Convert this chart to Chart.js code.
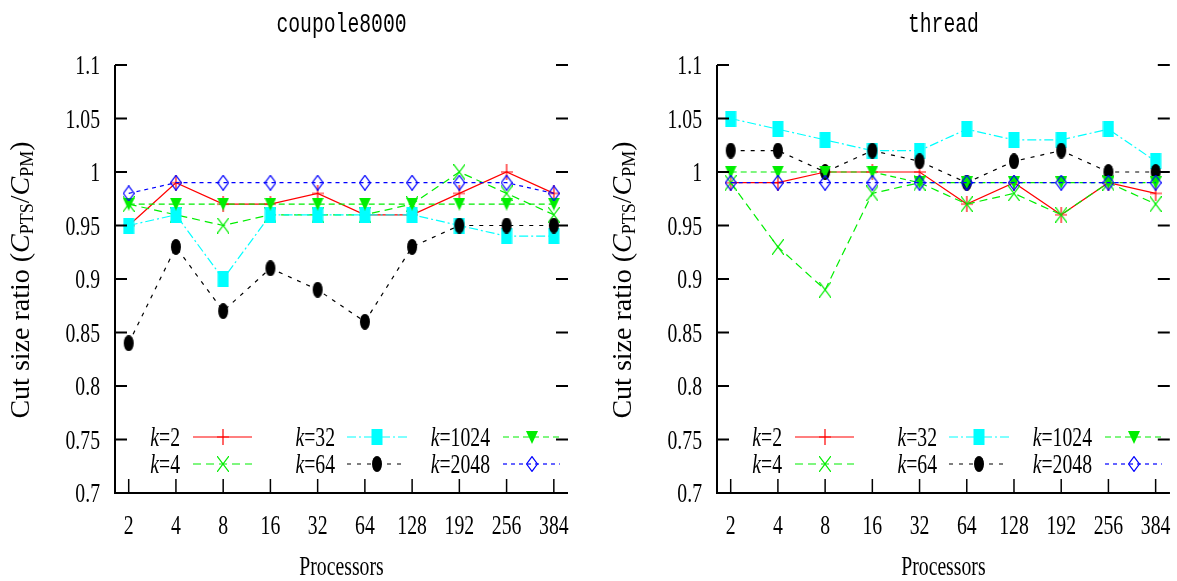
<!DOCTYPE html>
<html>
<head>
<meta charset="utf-8">
<script src="https://cdn.jsdelivr.net/npm/chart.js@4.4.0/dist/chart.umd.min.js"></script>
<style>
html, body { margin: 0; padding: 0; background: #fff; }
#wrap { position: relative; width: 1177px; height: 581px; overflow: hidden; }
canvas { position: absolute; top: 0; }
</style>
</head>
<body>
<div id="wrap">
  <canvas id="leftChart" width="588" height="581" style="left:0"></canvas>
  <canvas id="rightChart" width="589" height="581" style="left:588px"></canvas>
</div>
<script>
// categories and tick labels
const processors = ['2', '4', '8', '16', '32', '64', '128', '192', '256', '384'];
const yTickValues = [0.7, 0.75, 0.8, 0.85, 0.9, 0.95, 1, 1.05, 1.1];
const yTickLabels = ['0.7', '0.75', '0.8', '0.85', '0.9', '0.95', '1', '1.05', '1.1'];
const kValues = ['2', '4', '32', '64', '1024', '2048'];

// coupole8000
const coupoleK2    = [0.95, 0.99, 0.97, 0.97, 0.98, 0.96, 0.96, 0.98, 1.00, 0.98];
const coupoleK4    = [0.97, 0.96, 0.95, 0.96, 0.96, 0.96, 0.97, 1.00, 0.98, 0.96];
const coupoleK32   = [0.95, 0.96, 0.90, 0.96, 0.96, 0.96, 0.96, 0.95, 0.94, 0.94];
const coupoleK64   = [0.84, 0.93, 0.87, 0.91, 0.89, 0.86, 0.93, 0.95, 0.95, 0.95];
const coupoleK1024 = [0.97, 0.97, 0.97, 0.97, 0.97, 0.97, 0.97, 0.97, 0.97, 0.97];
const coupoleK2048 = [0.98, 0.99, 0.99, 0.99, 0.99, 0.99, 0.99, 0.99, 0.99, 0.98];

// thread
const threadK2    = [0.99, 0.99, 1.00, 1.00, 1.00, 0.97, 0.99, 0.96, 0.99, 0.98];
const threadK4    = [0.99, 0.93, 0.89, 0.98, 0.99, 0.97, 0.98, 0.96, 0.99, 0.97];
const threadK32   = [1.05, 1.04, 1.03, 1.02, 1.02, 1.04, 1.03, 1.03, 1.04, 1.01];
const threadK64   = [1.02, 1.02, 1.00, 1.02, 1.01, 0.99, 1.01, 1.02, 1.00, 1.00];
const threadK1024 = [1.00, 1.00, 1.00, 1.00, 0.99, 0.99, 0.99, 0.99, 0.99, 0.99];
const threadK2048 = [0.99, 0.99, 0.99, 0.99, 0.99, 0.99, 0.99, 0.99, 0.99, 0.99];

// line styles, one per k
const lineColors = ['#ff0000', '#00ee00', '#00ffff', '#000000', '#00ee00', '#0000ff'];
const lineDashes = [[], [8, 5], [9, 3, 2, 3], [4, 6], [6, 4], [4, 4]];
const markerShapes = ['plus', 'cross', 'square', 'circle', 'triangleDown', 'diamond'];

// the original text is horizontally condensed
const SX = 0.73;
const SERIF = '"Liberation Serif", "Times New Roman", serif';

function makeMarker(shape, color) {
    const c = document.createElement('canvas');
    const w = 12, h = shape === 'triangleDown' ? 13 : 16;
    c.width = w;
    c.height = h;
    const g = c.getContext('2d');
    g.strokeStyle = color;
    g.fillStyle = color;
    g.lineWidth = 1.2;
    g.beginPath();
    if (shape === 'plus') {
        g.moveTo(0, h / 2); g.lineTo(w, h / 2);
        g.moveTo(w / 2, 0); g.lineTo(w / 2, h);
        g.stroke();
    } else if (shape === 'cross') {
        g.moveTo(0, 0); g.lineTo(w, h);
        g.moveTo(w, 0); g.lineTo(0, h);
        g.stroke();
    } else if (shape === 'square') {
        g.fillRect(0.5, 0, 11, 16);
    } else if (shape === 'circle') {
        g.ellipse(w / 2, h / 2, 5, 8, 0, 0, Math.PI * 2);
        g.fill();
    } else if (shape === 'triangleDown') {
        g.moveTo(0, 0); g.lineTo(w, 0); g.lineTo(w / 2, h);
        g.closePath();
        g.fill();
    } else if (shape === 'diamond') {
        g.moveTo(w / 2, 0.6); g.lineTo(w - 0.6, h / 2);
        g.lineTo(w / 2, h - 0.6); g.lineTo(0.6, h / 2);
        g.closePath();
        g.stroke();
    }
    return c;
}

const markers = markerShapes.map((s, i) => makeMarker(s, lineColors[i]));

function textW(ctx, str, font, sx) {
    ctx.font = font;
    return ctx.measureText(str).width * sx;
}

// draws a run of text pieces, each piece can have its own font and offset
function drawParts(ctx, parts, x, y, align, sx) {
    const total = parts.reduce((s, p) => s + textW(ctx, p.t, p.font, sx), 0);
    let pos = align === 'right' ? x - total : align === 'center' ? x - total / 2 : x;
    parts.forEach(p => {
        ctx.save();
        ctx.font = p.font;
        ctx.fillStyle = '#000';
        ctx.textAlign = 'left';
        ctx.textBaseline = 'alphabetic';
        ctx.translate(pos, y + (p.dy || 0));
        ctx.scale(sx, 1);
        ctx.fillText(p.t, 0, 0);
        ctx.restore();
        pos += textW(ctx, p.t, p.font, sx);
    });
}

// axes, ticks, labels and legend in the gnuplot style
const framePlugin = {
    id: 'frame',
    afterDraw(chart, args, opts) {
        const ctx = chart.ctx;
        const xs = chart.scales.x, ys = chart.scales.y;
        const L = chart.chartArea.left, R = chart.chartArea.right;
        const T = chart.chartArea.top, B = chart.chartArea.bottom;
        ctx.save();
        ctx.strokeStyle = '#000';
        ctx.lineWidth = 2;
        ctx.setLineDash([]);
        ctx.beginPath();
        ctx.moveTo(L, T);
        ctx.lineTo(L, B);
        ctx.lineTo(R, B);
        ctx.stroke();

        // y ticks, on both sides, pointing inwards
        yTickValues.forEach((v, i) => {
            const y = ys.getPixelForValue(v);
            ctx.beginPath();
            ctx.moveTo(L, y); ctx.lineTo(L + 12, y);
            ctx.moveTo(R, y); ctx.lineTo(R - 12, y);
            ctx.stroke();
            drawParts(ctx, [{ t: yTickLabels[i], font: '27px ' + SERIF }], L - 15, y + 9, 'right', SX);
        });

        // x ticks
        ctx.lineWidth = 1.5;
        processors.forEach((p, i) => {
            const x = xs.getPixelForValue(i + 1);
            ctx.beginPath();
            ctx.moveTo(x, B); ctx.lineTo(x, B - 14);
            ctx.stroke();
            drawParts(ctx, [{ t: p, font: '27px ' + SERIF }], x, B + 41, 'center', SX);
        });

        // axis titles
        drawParts(ctx, [{ t: 'Processors', font: '27px ' + SERIF }], (L + R) / 2, B + 82, 'center', SX);
        drawParts(ctx, [{ t: opts.title, font: '27px "Liberation Mono", "Courier New", monospace' }], (L + R) / 2, 32, 'center', SX);

        ctx.save();
        ctx.translate(L - 86, (T + B) / 2 + 1);
        ctx.rotate(-Math.PI / 2);
        const big = '28px ' + SERIF, bigI = 'italic 28px ' + SERIF, sub = '18px ' + SERIF;
        drawParts(ctx, [
            { t: 'Cut size ratio (', font: big },
            { t: 'C', font: bigI },
            { t: 'PTS', font: sub, dy: 4 },
            { t: '/', font: big },
            { t: 'C', font: bigI },
            { t: 'PM', font: sub, dy: 4 },
            { t: ')', font: big }
        ], 0, 0, 'center', 1);
        ctx.restore();

        // legend
        const textEnd = [65, 220, 375];
        const lineStart = [78, 232, 388];
        const lineEnd = [137, 292, 445];
        const rowY = [B - 56, B - 29];
        kValues.forEach((k, i) => {
            const col = Math.floor(i / 2), row = i % 2;
            const y = rowY[row];
            drawParts(ctx, [
                { t: 'k', font: 'italic 27px ' + SERIF },
                { t: '=' + k, font: '27px ' + SERIF }
            ], L + textEnd[col], y + 9, 'right', SX);
            ctx.strokeStyle = lineColors[i];
            ctx.lineWidth = 1.2;
            ctx.setLineDash(lineDashes[i]);
            ctx.beginPath();
            ctx.moveTo(L + lineStart[col], y);
            ctx.lineTo(L + lineEnd[col], y);
            ctx.stroke();
            ctx.setLineDash([]);
            const m = markers[i];
            const mx = L + (lineStart[col] + lineEnd[col]) / 2;
            ctx.drawImage(m, Math.round(mx - m.width / 2), Math.round(y - m.height / 2));
        });
        ctx.restore();
    }
};

function buildDatasets(series) {
    return series.map((values, i) => ({
        label: 'k=' + kValues[i],
        data: values.map((v, j) => ({ x: j + 1, y: v })),
        borderColor: lineColors[i],
        borderWidth: 1.2,
        borderDash: lineDashes[i],
        pointStyle: markers[i],
        pointRadius: 6,
        pointHoverRadius: 6,
        fill: false,
        tension: 0,
        clip: false,
        order: series.length - i
    }));
}

function makeChart(id, title, series, plotLeft, plotRight, width) {
    const ctx = document.getElementById(id).getContext('2d');
    return new Chart(ctx, {
        type: 'line',
        data: { datasets: buildDatasets(series) },
        options: {
            responsive: false,
            animation: false,
            layout: { padding: { left: 0, right: width - plotRight, top: 65, bottom: 0 } },
            scales: {
                x: {
                    type: 'linear',
                    min: 0.71,
                    max: 10.3,
                    grid: { display: false },
                    border: { display: false },
                    ticks: { display: false },
                    afterFit: s => { s.height = 88; }
                },
                y: {
                    min: 0.7,
                    max: 1.1,
                    grid: { display: false },
                    border: { display: false },
                    ticks: { display: false },
                    afterFit: s => { s.width = plotLeft; }
                }
            },
            plugins: {
                legend: { display: false },
                title: { display: false },
                tooltip: { enabled: false },
                frame: { title: title }
            }
        },
        plugins: [framePlugin]
    });
}

makeChart('leftChart', 'coupole8000',
    [coupoleK2, coupoleK4, coupoleK32, coupoleK64, coupoleK1024, coupoleK2048], 115, 568, 588);
makeChart('rightChart', 'thread',
    [threadK2, threadK4, threadK32, threadK64, threadK1024, threadK2048], 129, 582, 589);
</script>
</body>
</html>
